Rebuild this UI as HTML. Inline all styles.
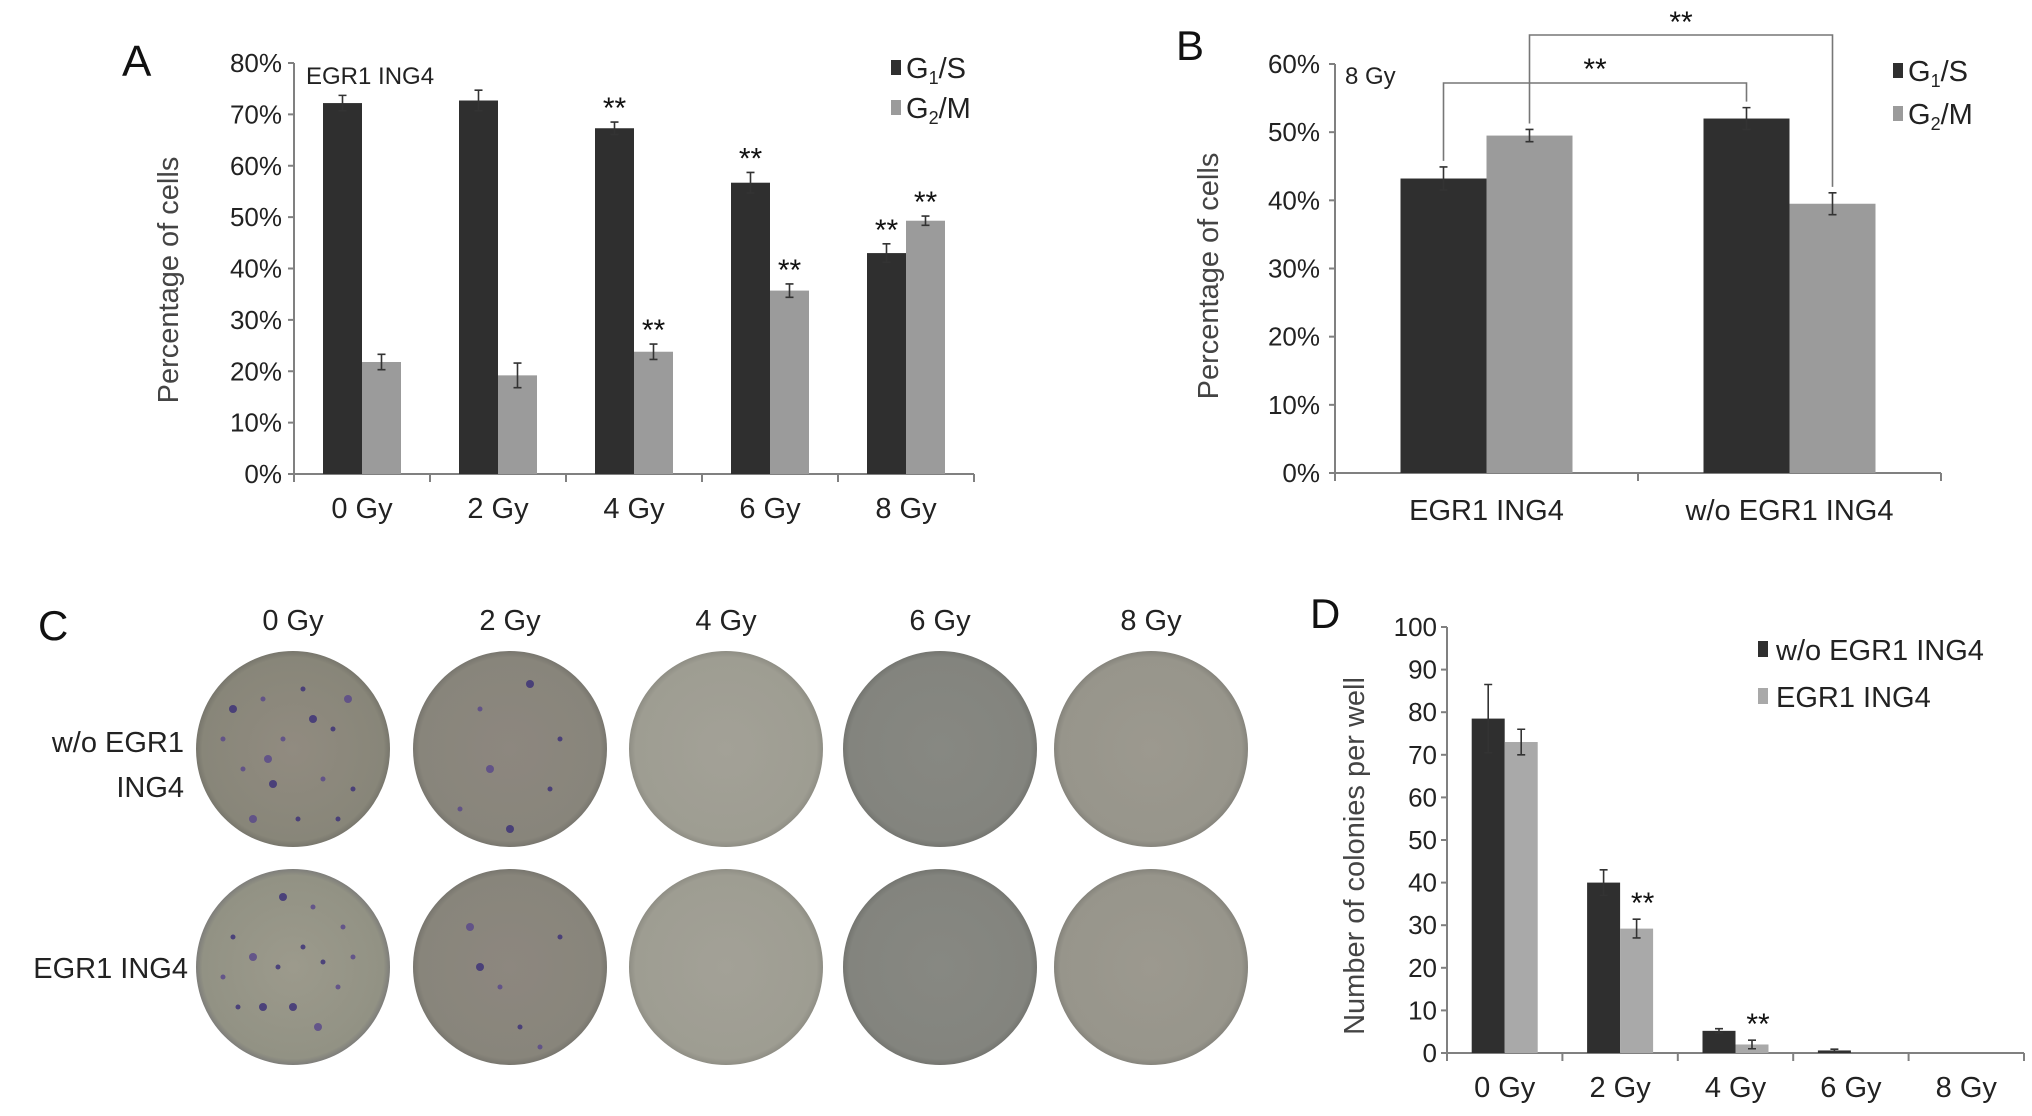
<!DOCTYPE html>
<html><head><meta charset="utf-8"><style>
html,body{margin:0;padding:0;background:#fff;}
svg{display:block;font-family:"Liberation Sans",sans-serif;}
</style></head><body>
<svg id="fig" width="2032" height="1116" viewBox="0 0 2032 1116" xmlns="http://www.w3.org/2000/svg">
<defs>
<radialGradient id="p0" cx="50%" cy="50%" r="55%"><stop offset="0" stop-color="#918b80"/><stop offset="0.85" stop-color="#888679"/><stop offset="1" stop-color="#5e5d58"/></radialGradient>
<radialGradient id="p0b" cx="50%" cy="50%" r="55%"><stop offset="0" stop-color="#9c9a8c"/><stop offset="0.85" stop-color="#929284"/><stop offset="1" stop-color="#5e5d6a"/></radialGradient>
<radialGradient id="p2" cx="50%" cy="50%" r="55%"><stop offset="0" stop-color="#8d877f"/><stop offset="0.85" stop-color="#88857b"/><stop offset="1" stop-color="#5f5e5a"/></radialGradient>
<radialGradient id="p4" cx="50%" cy="50%" r="55%"><stop offset="0" stop-color="#a3a197"/><stop offset="0.85" stop-color="#9e9d92"/><stop offset="1" stop-color="#77766f"/></radialGradient>
<radialGradient id="p6" cx="50%" cy="50%" r="55%"><stop offset="0" stop-color="#878882"/><stop offset="0.85" stop-color="#83847e"/><stop offset="1" stop-color="#5d5e5a"/></radialGradient>
<radialGradient id="p8" cx="50%" cy="50%" r="55%"><stop offset="0" stop-color="#9c998f"/><stop offset="0.85" stop-color="#97958b"/><stop offset="1" stop-color="#6a6964"/></radialGradient>
</defs>
<g id="gA"></g>
<g id="gB"></g>
<g id="gC"></g>
<g id="gD"></g>
</svg>
<script>
// ---- Panel A data ----
const aCategories = ["0 Gy","2 Gy","4 Gy","6 Gy","8 Gy"];
const aG1 = [72.2, 72.7, 67.3, 56.7, 43.0];
const aG1Err = [1.5, 2.0, 1.2, 2.0, 1.8];
const aG2 = [21.8, 19.2, 23.8, 35.7, 49.3];
const aG2Err = [1.5, 2.4, 1.5, 1.3, 0.9];
const aG1Star = [false, false, true, true, true];
const aG2Star = [false, false, true, true, true];
const aTicks = ["0%","10%","20%","30%","40%","50%","60%","70%","80%"];
// ---- Panel B data ----
const bCategories = ["EGR1 ING4","w/o EGR1 ING4"];
const bG1 = [43.2, 52.0];
const bG1Err = [1.7, 1.6];
const bG2 = [49.5, 39.5];
const bG2Err = [0.9, 1.6];
const bTicks = ["0%","10%","20%","30%","40%","50%","60%"];
// ---- Panel D data ----
const dCategories = ["0 Gy","2 Gy","4 Gy","6 Gy","8 Gy"];
const dWo = [78.5, 40.0, 5.2, 0.6, 0];
const dWoErr = [8.0, 3.0, 0.5, 0.3, 0];
const dWith = [73.0, 29.2, 2.0, 0, 0];
const dWithErr = [3.0, 2.2, 1.0, 0, 0];
const dWithStar = [false, true, true, false, false];
const dTicks = ["0","10","20","30","40","50","60","70","80","90","100"];
// ---- Panel C labels ----
const cCols = ["0 Gy","2 Gy","4 Gy","6 Gy","8 Gy"];
const cRows = ["w/o EGR1 ING4","EGR1 ING4"];

const NS="http://www.w3.org/2000/svg";
function mk(parent,tag,attrs,text){const e=document.createElementNS(NS,tag);for(const k in attrs)e.setAttribute(k,attrs[k]);if(text!==undefined)e.textContent=text;parent.appendChild(e);return e;}
const DARK="#2f2f2f", GRAY="#9b9b9b", AX="#808080";

function errBar(g,x,yTop,yBot,name){
  const l=mk(g,'path',{d:`M${x},${yTop}V${yBot}M${x-4},${yTop}H${x+4}M${x-4},${yBot}H${x+4}`,stroke:'#333','stroke-width':1.6,fill:'none'});
  
  
}
function stars(g,x,y,name){
  const t=mk(g,'text',{x:x,y:y,'text-anchor':'middle','font-size':30,fill:'#111'},'**');
  
  
}

// ================= Panel A =================
(function(){
  const g=document.getElementById('gA');
  const x0=294,x1=974,y0=474,yTop=63,vmax=80;
  const ys=v=>y0-(v/vmax)*(y0-yTop);
  const cw=(x1-x0)/aCategories.length, bw=39;
  mk(g,'text',{x:122,y:76,'font-size':44,fill:'#111'},'A');
  mk(g,'line',{x1:x0,y1:yTop,x2:x0,y2:y0,stroke:AX,'stroke-width':2});
  mk(g,'line',{x1:x0,y1:y0,x2:x1,y2:y0,stroke:AX,'stroke-width':2});
  aTicks.forEach((t,i)=>{const y=ys(i*10);
    mk(g,'line',{x1:x0-6,y1:y,x2:x0,y2:y,stroke:AX,'stroke-width':2});
    const e=mk(g,'text',{x:282,y:y+9,'text-anchor':'end','font-size':26,fill:'#222'},t);
    
    });
  for(let i=0;i<=aCategories.length;i++){const x=x0+i*cw;mk(g,'line',{x1:x,y1:y0,x2:x,y2:y0+8,stroke:AX,'stroke-width':2});}
  const yt=mk(g,'text',{x:0,y:0,transform:'translate(178,280) rotate(-90)','text-anchor':'middle','font-size':29,fill:'#444'},'Percentage of cells');
  
  mk(g,'text',{x:306,y:84,'font-size':24,fill:'#222'},'EGR1 ING4');
  aCategories.forEach((c,i)=>{
    const cx=x0+cw*(i+0.5);
    const r1=mk(g,'rect',{x:cx-bw,y:ys(aG1[i]),width:bw,height:y0-ys(aG1[i]),fill:DARK});
    
    
    const r2=mk(g,'rect',{x:cx,y:ys(aG2[i]),width:bw,height:y0-ys(aG2[i]),fill:GRAY});
    
    
    errBar(g,cx-bw/2,ys(aG1[i]+aG1Err[i]),ys(aG1[i]-aG1Err[i]),'err-g1s-'+i);
    errBar(g,cx+bw/2,ys(aG2[i]+aG2Err[i]),ys(aG2[i]-aG2Err[i]),'err-g2m-'+i);
    if(aG1Star[i])stars(g,cx-bw/2,ys(aG1[i]+aG1Err[i])-4,'star-g1s-'+i);
    if(aG2Star[i])stars(g,cx+bw/2,ys(aG2[i]+aG2Err[i])-4,'star-g2m-'+i);
    const t=mk(g,'text',{x:cx,y:518,'text-anchor':'middle','font-size':29,fill:'#222'},c);
    
    
  });
  mk(g,'rect',{x:891,y:60,width:10,height:15,fill:DARK});
  const l1=mk(g,'text',{x:906,y:78,'font-size':29,fill:'#222'});l1.innerHTML='G<tspan font-size="18" dy="6">1</tspan><tspan dy="-6">/S</tspan>';
  
  mk(g,'rect',{x:891,y:100,width:10,height:15,fill:GRAY});
  const l2=mk(g,'text',{x:906,y:118,'font-size':29,fill:'#222'});l2.innerHTML='G<tspan font-size="18" dy="6">2</tspan><tspan dy="-6">/M</tspan>';
  
})();

// ================= Panel B =================
(function(){
  const g=document.getElementById('gB');
  const x0=1335,x1=1941,y0=473,yTop=64,vmax=60;
  const ys=v=>y0-(v/vmax)*(y0-yTop);
  const cw=(x1-x0)/bCategories.length, bw=86;
  mk(g,'text',{x:1176,y:60,'font-size':42,fill:'#111'},'B');
  mk(g,'line',{x1:x0,y1:yTop,x2:x0,y2:y0,stroke:AX,'stroke-width':2});
  mk(g,'line',{x1:x0,y1:y0,x2:x1,y2:y0,stroke:AX,'stroke-width':2});
  bTicks.forEach((t,i)=>{const y=ys(i*10);
    mk(g,'line',{x1:x0-6,y1:y,x2:x0,y2:y,stroke:AX,'stroke-width':2});
    const e=mk(g,'text',{x:1320,y:y+9,'text-anchor':'end','font-size':26,fill:'#222'},t);
    
    });
  for(let i=0;i<=bCategories.length;i++){const x=x0+i*cw;mk(g,'line',{x1:x,y1:y0,x2:x,y2:y0+8,stroke:AX,'stroke-width':2});}
  mk(g,'text',{x:0,y:0,transform:'translate(1218,276) rotate(-90)','text-anchor':'middle','font-size':29,fill:'#444'},'Percentage of cells');
  mk(g,'text',{x:1345,y:84,'font-size':24,fill:'#222'},'8 Gy');
  const tops=[];
  bCategories.forEach((c,i)=>{
    const cx=x0+cw*(i+0.5);
    const r1=mk(g,'rect',{x:cx-bw,y:ys(bG1[i]),width:bw,height:y0-ys(bG1[i]),fill:DARK});
    
    
    const r2=mk(g,'rect',{x:cx,y:ys(bG2[i]),width:bw,height:y0-ys(bG2[i]),fill:GRAY});
    
    
    errBar(g,cx-bw/2,ys(bG1[i]+bG1Err[i]),ys(bG1[i]-bG1Err[i]),'b-err-g1s-'+i);
    errBar(g,cx+bw/2,ys(bG2[i]+bG2Err[i]),ys(bG2[i]-bG2Err[i]),'b-err-g2m-'+i);
    tops.push({g1x:cx-bw/2,g1y:ys(bG1[i]+bG1Err[i]),g2x:cx+bw/2,g2y:ys(bG2[i]+bG2Err[i])});
    const t=mk(g,'text',{x:cx,y:520,'text-anchor':'middle','font-size':29,fill:'#222'},c);
    
    
  });
  // brackets
  const br1=mk(g,'path',{d:`M${tops[0].g1x},${tops[0].g1y-6}V83H${tops[1].g1x}V${tops[1].g1y-6}`,stroke:'#777','stroke-width':1.6,fill:'none'});
  
  stars(g,(tops[0].g1x+tops[1].g1x)/2,79,'b-star-g1s');
  const br2=mk(g,'path',{d:`M${tops[0].g2x},${tops[0].g2y-6}V35H${tops[1].g2x}V${tops[1].g2y-6}`,stroke:'#777','stroke-width':1.6,fill:'none'});
  
  stars(g,(tops[0].g2x+tops[1].g2x)/2,32,'b-star-g2m');
  mk(g,'rect',{x:1893,y:63,width:10,height:15,fill:DARK});
  const l1=mk(g,'text',{x:1908,y:81,'font-size':29,fill:'#222'});l1.innerHTML='G<tspan font-size="18" dy="6">1</tspan><tspan dy="-6">/S</tspan>';
  
  mk(g,'rect',{x:1893,y:106,width:10,height:15,fill:GRAY});
  const l2=mk(g,'text',{x:1908,y:124,'font-size':29,fill:'#222'});l2.innerHTML='G<tspan font-size="18" dy="6">2</tspan><tspan dy="-6">/M</tspan>';
  
})();

// ================= Panel C (plates) =================
(function(){
  const g=document.getElementById('gC');
  mk(g,'text',{x:38,y:640,'font-size':42,fill:'#111'},'C');
  const colX=[293,510,726,940,1151], rowY=[749,967];
  const fills=[["url(#p0)","url(#p0b)"],["url(#p2)","url(#p2)"],["url(#p4)","url(#p4)"],["url(#p6)","url(#p6)"],["url(#p8)","url(#p8)"]];
  cCols.forEach((c,i)=>{
    const t=mk(g,'text',{x:colX[i],y:630,'text-anchor':'middle','font-size':29,fill:'#222'},c);
    
    
    rowY.forEach((y,j)=>{
      const p=mk(g,'ellipse',{cx:colX[i],cy:y,rx:97,ry:98,fill:fills[i][j]});
      
      
    });
  });
  // colonies (decorative)
  const dots=[[0,0,[[-60,-40],[-30,-50],[10,-60],[55,-50],[40,-20],[-50,20],[-20,35],[30,30],[5,70],[-40,70],[60,40],[-10,-10],[20,-30],[-70,-10],[45,70],[-25,10]]],
              [0,1,[[-10,-70],[20,-60],[-60,-30],[-40,-10],[10,-20],[50,-40],[-30,40],[45,20],[-55,40],[25,60],[-15,0],[60,-10],[0,40],[-70,10],[30,-5]]],
              [1,0,[[20,-65],[-30,-40],[50,-10],[-20,20],[40,40],[-50,60],[0,80]]],
              [1,1,[[-30,0],[-10,20],[10,60],[-40,-40],[50,-30],[30,80]]]];
  dots.forEach(([ci,ri,list])=>list.forEach(([dx,dy],k)=>{
    const d=mk(g,'circle',{cx:colX[ci]+dx,cy:rowY[ri]+dy,r:(k%3===0?4:2.5),fill:(k%2?'#5a4a8a':'#3e3478'),opacity:0.85});
    
    
  }));
  mk(g,'text',{x:184,y:752,'text-anchor':'end','font-size':29,fill:'#222'},'w/o EGR1');
  mk(g,'text',{x:184,y:797,'text-anchor':'end','font-size':29,fill:'#222'},'ING4');
  mk(g,'text',{x:188,y:978,'text-anchor':'end','font-size':29,fill:'#222'},cRows[1]);
})();

// ================= Panel D =================
(function(){
  const g=document.getElementById('gD');
  const x0=1447,x1=2024,y0=1053,yTop=627,vmax=100;
  const ys=v=>y0-(v/vmax)*(y0-yTop);
  const cw=(x1-x0)/dCategories.length, bw=33;
  mk(g,'text',{x:1310,y:628,'font-size':42,fill:'#111'},'D');
  mk(g,'line',{x1:x0,y1:yTop,x2:x0,y2:y0,stroke:AX,'stroke-width':2});
  mk(g,'line',{x1:x0,y1:y0,x2:x1,y2:y0,stroke:AX,'stroke-width':2});
  dTicks.forEach((t,i)=>{const y=ys(i*10);
    mk(g,'line',{x1:x0-6,y1:y,x2:x0,y2:y,stroke:AX,'stroke-width':2});
    const e=mk(g,'text',{x:1437,y:y+9,'text-anchor':'end','font-size':26,fill:'#222'},t);
    
    });
  for(let i=0;i<=dCategories.length;i++){const x=x0+i*cw;mk(g,'line',{x1:x,y1:y0,x2:x,y2:y0+8,stroke:AX,'stroke-width':2});}
  mk(g,'text',{x:0,y:0,transform:'translate(1364,856) rotate(-90)','text-anchor':'middle','font-size':29,fill:'#444'},'Number of colonies per well');
  dCategories.forEach((c,i)=>{
    const cx=x0+cw*(i+0.5);
    if(dWo[i]>0){
      const r1=mk(g,'rect',{x:cx-bw,y:ys(dWo[i]),width:bw,height:y0-ys(dWo[i]),fill:DARK});
      
      
      errBar(g,cx-bw/2,ys(dWo[i]+dWoErr[i]),ys(dWo[i]-dWoErr[i]),'d-err-wo-'+i);
    }
    if(dWith[i]>0){
      const r2=mk(g,'rect',{x:cx,y:ys(dWith[i]),width:bw,height:y0-ys(dWith[i]),fill:'#a9a9a9'});
      
      
      errBar(g,cx+bw/2,ys(dWith[i]+dWithErr[i]),ys(dWith[i]-dWithErr[i]),'d-err-egr1-'+i);
    }
    if(dWithStar[i])stars(g,cx+bw/2+6,ys(dWith[i]+dWithErr[i])-6,'d-star-'+i);
    const t=mk(g,'text',{x:cx,y:1097,'text-anchor':'middle','font-size':29,fill:'#222'},c);
    
    
  });
  mk(g,'rect',{x:1758,y:641,width:10,height:16,fill:DARK});
  mk(g,'text',{x:1776,y:660,'font-size':29,fill:'#222'},'w/o EGR1 ING4');
  mk(g,'rect',{x:1758,y:688,width:10,height:16,fill:'#a9a9a9'});
  mk(g,'text',{x:1776,y:707,'font-size':29,fill:'#222'},'EGR1 ING4');
})();
</script>
</body></html>
